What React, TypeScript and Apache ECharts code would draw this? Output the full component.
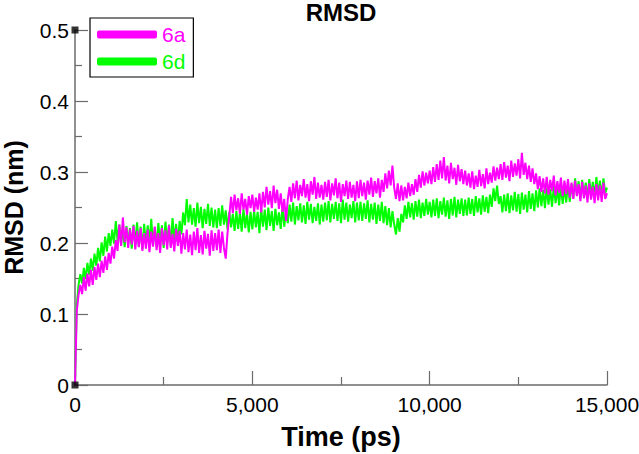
import React, { useEffect, useRef } from "react";
import * as echarts from "echarts";

const SAMPLE_STEP_PS = 50;
const xTicks = [0, 5000, 10000, 15000];
const yTicks = [0, 0.1, 0.2, 0.3, 0.4, 0.5];
const seriesNames = ["6a", "6d"];

// RMSD (nm) of 6a, one value every 50 ps from 0 to 15,000 ps
const rmsd6a = [
  0, 0.104, 0.127, 0.141, 0.128, 0.152, 0.133, 0.157, 0.139, 0.162, 0.141, 0.166, 0.148, 0.171, 0.152, 0.175, 0.158, 0.181, 0.162, 0.186,
  0.171, 0.195, 0.178, 0.204, 0.189, 0.226, 0.196, 0.236, 0.201, 0.222, 0.193, 0.219, 0.198, 0.224, 0.191, 0.217, 0.194, 0.221, 0.189, 0.214,
  0.192, 0.219, 0.187, 0.216, 0.195, 0.223, 0.19, 0.214, 0.186, 0.221, 0.197, 0.218, 0.191, 0.225, 0.193, 0.213, 0.188, 0.22, 0.196, 0.217,
  0.185, 0.214, 0.191, 0.219, 0.187, 0.212, 0.183, 0.216, 0.19, 0.221, 0.186, 0.211, 0.184, 0.217, 0.192, 0.213, 0.182, 0.218, 0.189, 0.214,
  0.19, 0.219, 0.186, 0.216, 0.193, 0.178, 0.214, 0.238, 0.265, 0.242, 0.268, 0.246, 0.263, 0.241, 0.27, 0.247, 0.262, 0.24, 0.266, 0.249,
  0.268, 0.244, 0.264, 0.247, 0.27, 0.243, 0.272, 0.25, 0.279, 0.254, 0.273, 0.249, 0.281, 0.256, 0.275, 0.248, 0.27, 0.244, 0.262, 0.231,
  0.262, 0.279, 0.258, 0.284, 0.263, 0.288, 0.26, 0.282, 0.266, 0.29, 0.264, 0.283, 0.259, 0.287, 0.268, 0.293, 0.262, 0.285, 0.264, 0.282,
  0.261, 0.286, 0.265, 0.289, 0.26, 0.284, 0.267, 0.291, 0.263, 0.285, 0.258, 0.283, 0.266, 0.288, 0.262, 0.286, 0.264, 0.282, 0.259, 0.287,
  0.263, 0.289, 0.266, 0.285, 0.261, 0.288, 0.268, 0.292, 0.265, 0.287, 0.27, 0.291, 0.264, 0.289, 0.272, 0.298, 0.277, 0.302, 0.281, 0.309,
  0.278, 0.262, 0.284, 0.259, 0.281, 0.26, 0.279, 0.263, 0.285, 0.266, 0.283, 0.268, 0.29, 0.272, 0.296, 0.278, 0.301, 0.281, 0.299, 0.284,
  0.302, 0.283, 0.307, 0.286, 0.311, 0.289, 0.316, 0.291, 0.321, 0.288, 0.309, 0.284, 0.313, 0.29, 0.306, 0.282, 0.31, 0.287, 0.304, 0.283,
  0.302, 0.281, 0.298, 0.278, 0.301, 0.276, 0.295, 0.279, 0.303, 0.28, 0.297, 0.277, 0.305, 0.283, 0.299, 0.285, 0.308, 0.288, 0.306, 0.29,
  0.311, 0.289, 0.314, 0.292, 0.309, 0.287, 0.316, 0.293, 0.312, 0.295, 0.318, 0.291, 0.327, 0.296, 0.313, 0.29, 0.309, 0.286, 0.305, 0.283,
  0.298, 0.276, 0.294, 0.272, 0.291, 0.27, 0.293, 0.268, 0.289, 0.273, 0.295, 0.267, 0.287, 0.271, 0.292, 0.266, 0.288, 0.269, 0.29, 0.264,
  0.285, 0.262, 0.288, 0.266, 0.283, 0.259, 0.286, 0.263, 0.281, 0.257, 0.284, 0.261, 0.279, 0.256, 0.283, 0.26, 0.281, 0.258, 0.285, 0.262,
  0.27,
];

// RMSD (nm) of 6d, one value every 50 ps from 0 to 15,000 ps
const rmsd6d = [
  0, 0.112, 0.141, 0.156, 0.143, 0.165, 0.149, 0.172, 0.155, 0.178, 0.161, 0.185, 0.168, 0.193, 0.174, 0.201, 0.182, 0.209, 0.188, 0.214,
  0.196, 0.219, 0.199, 0.231, 0.203, 0.226, 0.197, 0.222, 0.194, 0.224, 0.199, 0.221, 0.192, 0.226, 0.198, 0.229, 0.195, 0.223, 0.191, 0.227,
  0.198, 0.225, 0.2, 0.234, 0.197, 0.222, 0.194, 0.228, 0.201, 0.225, 0.193, 0.23, 0.199, 0.226, 0.196, 0.235, 0.203, 0.227, 0.2, 0.231,
  0.212, 0.243, 0.225, 0.262, 0.229, 0.254, 0.226, 0.249, 0.223, 0.257, 0.228, 0.251, 0.221, 0.248, 0.227, 0.255, 0.224, 0.25, 0.222, 0.247,
  0.221, 0.249, 0.224, 0.253, 0.226, 0.246, 0.219, 0.244, 0.222, 0.241, 0.217, 0.245, 0.22, 0.243, 0.216, 0.248, 0.221, 0.242, 0.215, 0.244,
  0.219, 0.246, 0.222, 0.244, 0.214, 0.249, 0.223, 0.247, 0.218, 0.25, 0.224, 0.245, 0.217, 0.248, 0.225, 0.243, 0.22, 0.251, 0.223, 0.246,
  0.228, 0.254, 0.23, 0.257, 0.226, 0.252, 0.232, 0.256, 0.229, 0.253, 0.227, 0.258, 0.233, 0.255, 0.228, 0.251, 0.231, 0.256, 0.226, 0.254,
  0.23, 0.257, 0.232, 0.259, 0.229, 0.255, 0.234, 0.258, 0.231, 0.256, 0.228, 0.261, 0.233, 0.257, 0.23, 0.254, 0.235, 0.259, 0.229, 0.257,
  0.232, 0.258, 0.231, 0.256, 0.234, 0.26, 0.229, 0.255, 0.233, 0.257, 0.227, 0.254, 0.231, 0.258, 0.228, 0.252, 0.225, 0.249, 0.222, 0.245,
  0.226, 0.212, 0.235, 0.216, 0.241, 0.229, 0.253, 0.234, 0.258, 0.236, 0.256, 0.233, 0.259, 0.237, 0.261, 0.235, 0.257, 0.238, 0.262, 0.24,
  0.258, 0.236, 0.261, 0.238, 0.263, 0.235, 0.259, 0.24, 0.264, 0.237, 0.26, 0.234, 0.262, 0.239, 0.265, 0.236, 0.261, 0.241, 0.263, 0.238,
  0.261, 0.239, 0.264, 0.241, 0.262, 0.238, 0.266, 0.243, 0.263, 0.24, 0.267, 0.244, 0.265, 0.242, 0.268, 0.251, 0.277, 0.259, 0.281, 0.255,
  0.266, 0.243, 0.268, 0.245, 0.27, 0.242, 0.267, 0.246, 0.272, 0.244, 0.269, 0.241, 0.271, 0.247, 0.268, 0.243, 0.273, 0.248, 0.27, 0.245,
  0.274, 0.25, 0.277, 0.252, 0.275, 0.249, 0.279, 0.254, 0.276, 0.251, 0.281, 0.256, 0.278, 0.253, 0.282, 0.255, 0.279, 0.257, 0.284, 0.258,
  0.283, 0.264, 0.291, 0.268, 0.287, 0.262, 0.289, 0.266, 0.285, 0.263, 0.29, 0.267, 0.286, 0.264, 0.293, 0.269, 0.288, 0.265, 0.291, 0.27,
  0.278,
];

const COLOR_6A = "#ff00ff";
const COLOR_6D = "#00ff00";
const FONT = "'Liberation Sans', Arial, Helvetica, sans-serif";
const AXIS_COLOR = "#6b6b6b";

export default function App() {
  const ref = useRef<HTMLDivElement>(null);

  useEffect(() => {
    if (!ref.current) return;
    const chart = echarts.init(ref.current, undefined, { renderer: "svg" });
    const toPairs = (arr: number[]) => arr.map((v, i) => [i * SAMPLE_STEP_PS, v]);

    chart.setOption({
      animation: false,
      backgroundColor: "#ffffff",
      title: {
        text: "RMSD",
        left: 341,
        top: 0,
        textAlign: "center",
        padding: 0,
        textStyle: { fontFamily: FONT, fontWeight: "bold", fontSize: 24, color: "#000" },
      },
      legend: {
        orient: "vertical",
        left: 90,
        top: 18,
        padding: [6, 8, 5, 7],
        itemGap: 6,
        itemWidth: 60,
        itemHeight: 8,
        icon: "roundRect",
        borderColor: "#000",
        borderWidth: 1.2,
        backgroundColor: "#fff",
        textStyle: { fontFamily: FONT, fontSize: 21 },
        data: [
          { name: seriesNames[0], textStyle: { color: COLOR_6A } },
          { name: seriesNames[1], textStyle: { color: COLOR_6D } },
        ],
      },
      grid: { left: 75, right: 32, top: 30, bottom: 69, containLabel: false, outerBoundsMode: "none" },
      xAxis: {
        type: "value",
        min: xTicks[0],
        max: xTicks[xTicks.length - 1],
        interval: xTicks[1] - xTicks[0],
        name: "Time (ps)",
        nameLocation: "middle",
        nameGap: 38,
        nameTextStyle: { fontFamily: FONT, fontWeight: "bold", fontSize: 27, color: "#000" },
        axisLine: { show: true, onZero: false, lineStyle: { color: AXIS_COLOR, width: 1.5 } },
        axisTick: { show: true, inside: true, length: 14, lineStyle: { color: AXIS_COLOR, width: 1.2 } },
        minorTick: { show: true, splitNumber: 2, length: 8, lineStyle: { color: AXIS_COLOR, width: 1.2 } },
        splitLine: { show: false },
        axisLabel: {
          fontFamily: FONT,
          fontSize: 21,
          color: "#000",
          margin: 9,
          formatter: (v: number) => v.toLocaleString("en-US"),
        },
      },
      yAxis: {
        type: "value",
        min: yTicks[0],
        max: yTicks[yTicks.length - 1],
        interval: yTicks[1] - yTicks[0],
        name: "RMSD (nm)",
        nameLocation: "middle",
        nameGap: 49,
        nameRotate: 90,
        nameTextStyle: { fontFamily: FONT, fontWeight: "bold", fontSize: 25, color: "#000" },
        axisLine: { show: true, onZero: false, lineStyle: { color: AXIS_COLOR, width: 1.5 } },
        axisTick: { show: true, inside: true, length: 13, lineStyle: { color: AXIS_COLOR, width: 1.2 } },
        minorTick: { show: true, splitNumber: 2, length: 7, lineStyle: { color: AXIS_COLOR, width: 1.2 } },
        splitLine: { show: false },
        axisLabel: {
          fontFamily: FONT,
          fontSize: 21,
          color: "#000",
          margin: 6,
          formatter: (v: number) => (v === 0 ? "0" : v.toFixed(1)),
        },
      },
      series: [
        {
          name: seriesNames[1],
          type: "line",
          data: toPairs(rmsd6d),
          showSymbol: false,
          symbol: "none",
          color: COLOR_6D,
          lineStyle: { color: COLOR_6D, width: 2 },
          z: 2,
        },
        {
          name: seriesNames[0],
          type: "line",
          data: toPairs(rmsd6a),
          showSymbol: false,
          symbol: "none",
          color: COLOR_6A,
          lineStyle: { color: COLOR_6A, width: 2 },
          z: 3,
        },
        {
          name: "axisMarks",
          type: "scatter",
          data: [
            [xTicks[0], yTicks[0]],
            [xTicks[0], yTicks[yTicks.length - 1]],
          ],
          symbol: "rect",
          symbolSize: 7,
          itemStyle: { color: "#000" },
          silent: true,
          z: 5,
        },
      ],
    });

    return () => chart.dispose();
  }, []);

  return (
    <div
      ref={ref}
      style={{ position: "fixed", left: 0, top: 0, width: 639, height: 454, background: "#fff" }}
    />
  );
}
